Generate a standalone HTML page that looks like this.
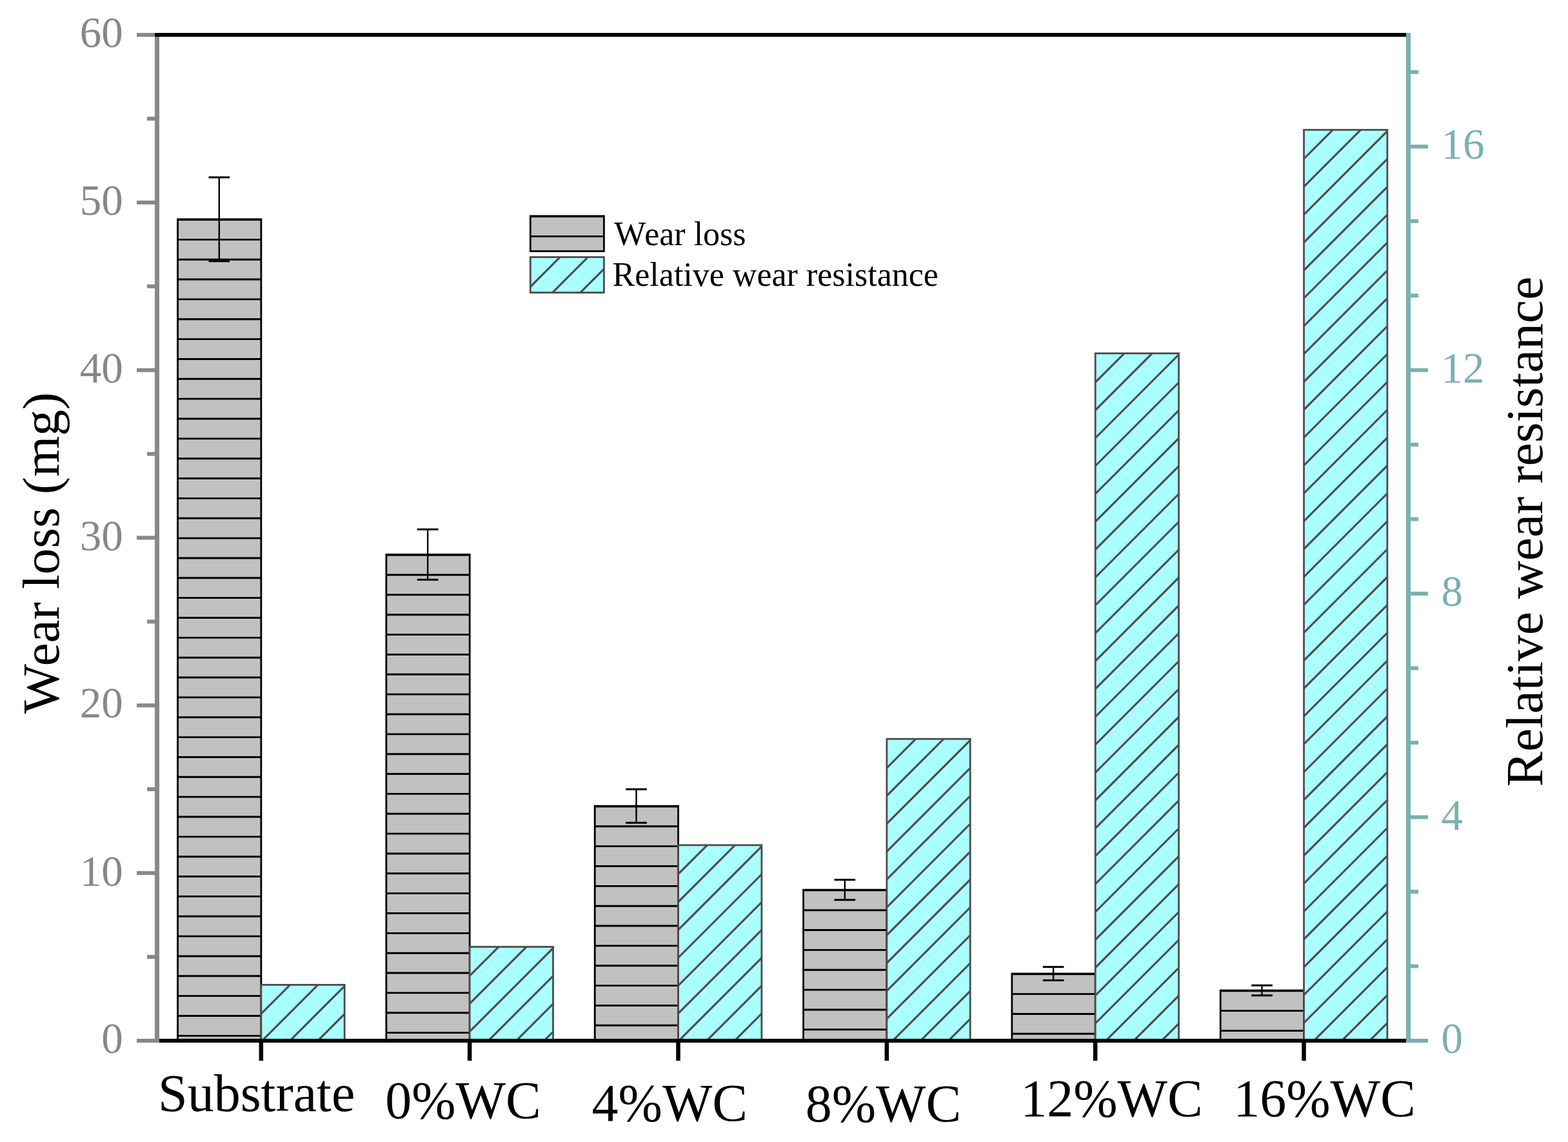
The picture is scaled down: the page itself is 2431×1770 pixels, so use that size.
<!DOCTYPE html>
<html lang="en"><head><meta charset="utf-8"><title>Wear loss and relative wear resistance</title>
<style>html,body{margin:0;padding:0;background:#fff;width:2431px;height:1770px;}svg{display:block;}text{font-family:"Liberation Serif","Times New Roman",Times,serif;white-space:pre;}</style>
</head><body>
<svg width="2431" height="1770" viewBox="0 0 2431 1770">
<rect x="0" y="0" width="2431" height="1770" fill="#fff"/>
<defs>
<clipPath id="cg0"><rect x="275.53" y="339.82" width="129.33" height="1273.18"/></clipPath>
<clipPath id="cc0"><rect x="404.87" y="1526.39" width="129.33" height="86.61"/></clipPath>
<clipPath id="cg1"><rect x="598.87" y="859.48" width="129.33" height="753.52"/></clipPath>
<clipPath id="cc1"><rect x="728.2" y="1467.49" width="129.33" height="145.51"/></clipPath>
<clipPath id="cg2"><rect x="922.2" y="1249.23" width="129.33" height="363.77"/></clipPath>
<clipPath id="cc2"><rect x="1051.53" y="1309.86" width="129.33" height="303.14"/></clipPath>
<clipPath id="cg3"><rect x="1245.53" y="1379.15" width="129.33" height="233.85"/></clipPath>
<clipPath id="cc3"><rect x="1374.87" y="1145.3" width="129.33" height="467.7"/></clipPath>
<clipPath id="cg4"><rect x="1568.87" y="1509.07" width="129.33" height="103.93"/></clipPath>
<clipPath id="cc4"><rect x="1698.2" y="547.68" width="129.33" height="1065.32"/></clipPath>
<clipPath id="cg5"><rect x="1892.2" y="1535.05" width="129.33" height="77.95"/></clipPath>
<clipPath id="cc5"><rect x="2021.53" y="201.24" width="129.33" height="1411.76"/></clipPath>
<clipPath id="cl"><rect x="822" y="398.5" width="114.5" height="55"/></clipPath>
</defs>
<g id="gray0">
<rect x="275.53" y="339.82" width="129.33" height="1273.18" fill="#C1C1C1"/>
<path clip-path="url(#cg0)" stroke="#000" stroke-width="2.9" fill="none" d="M275.53 340.52H404.87M275.53 371.37H404.87M275.53 402.22H404.87M275.53 433.07H404.87M275.53 463.92H404.87M275.53 494.77H404.87M275.53 525.62H404.87M275.53 556.47H404.87M275.53 587.32H404.87M275.53 618.17H404.87M275.53 649.02H404.87M275.53 679.87H404.87M275.53 710.72H404.87M275.53 741.57H404.87M275.53 772.42H404.87M275.53 803.27H404.87M275.53 834.12H404.87M275.53 864.97H404.87M275.53 895.82H404.87M275.53 926.67H404.87M275.53 957.52H404.87M275.53 988.37H404.87M275.53 1019.22H404.87M275.53 1050.07H404.87M275.53 1080.92H404.87M275.53 1111.77H404.87M275.53 1142.62H404.87M275.53 1173.47H404.87M275.53 1204.32H404.87M275.53 1235.17H404.87M275.53 1266.02H404.87M275.53 1296.87H404.87M275.53 1327.72H404.87M275.53 1358.57H404.87M275.53 1389.42H404.87M275.53 1420.27H404.87M275.53 1451.12H404.87M275.53 1481.97H404.87M275.53 1512.82H404.87M275.53 1543.67H404.87M275.53 1574.52H404.87M275.53 1605.37H404.87"/>
<rect x="275.53" y="339.82" width="129.33" height="1273.18" fill="none" stroke="#000" stroke-width="2.8"/>
</g>
<g id="gray1">
<rect x="598.87" y="859.48" width="129.33" height="753.52" fill="#C1C1C1"/>
<path clip-path="url(#cg1)" stroke="#000" stroke-width="2.9" fill="none" d="M598.87 860.18H728.2M598.87 891.03H728.2M598.87 921.88H728.2M598.87 952.73H728.2M598.87 983.58H728.2M598.87 1014.43H728.2M598.87 1045.28H728.2M598.87 1076.13H728.2M598.87 1106.98H728.2M598.87 1137.83H728.2M598.87 1168.68H728.2M598.87 1199.53H728.2M598.87 1230.38H728.2M598.87 1261.23H728.2M598.87 1292.08H728.2M598.87 1322.93H728.2M598.87 1353.78H728.2M598.87 1384.63H728.2M598.87 1415.48H728.2M598.87 1446.33H728.2M598.87 1477.18H728.2M598.87 1508.03H728.2M598.87 1538.88H728.2M598.87 1569.73H728.2M598.87 1600.58H728.2"/>
<rect x="598.87" y="859.48" width="129.33" height="753.52" fill="none" stroke="#000" stroke-width="2.8"/>
</g>
<g id="gray2">
<rect x="922.2" y="1249.23" width="129.33" height="363.77" fill="#C1C1C1"/>
<path clip-path="url(#cg2)" stroke="#000" stroke-width="2.9" fill="none" d="M922.2 1249.93H1051.53M922.2 1280.78H1051.53M922.2 1311.63H1051.53M922.2 1342.48H1051.53M922.2 1373.33H1051.53M922.2 1404.18H1051.53M922.2 1435.03H1051.53M922.2 1465.88H1051.53M922.2 1496.73H1051.53M922.2 1527.58H1051.53M922.2 1558.43H1051.53M922.2 1589.28H1051.53"/>
<rect x="922.2" y="1249.23" width="129.33" height="363.77" fill="none" stroke="#000" stroke-width="2.8"/>
</g>
<g id="gray3">
<rect x="1245.53" y="1379.15" width="129.33" height="233.85" fill="#C1C1C1"/>
<path clip-path="url(#cg3)" stroke="#000" stroke-width="2.9" fill="none" d="M1245.53 1379.85H1374.87M1245.53 1410.7H1374.87M1245.53 1441.55H1374.87M1245.53 1472.4H1374.87M1245.53 1503.25H1374.87M1245.53 1534.1H1374.87M1245.53 1564.95H1374.87M1245.53 1595.8H1374.87"/>
<rect x="1245.53" y="1379.15" width="129.33" height="233.85" fill="none" stroke="#000" stroke-width="2.8"/>
</g>
<g id="gray4">
<rect x="1568.87" y="1509.07" width="129.33" height="103.93" fill="#C1C1C1"/>
<path clip-path="url(#cg4)" stroke="#000" stroke-width="2.9" fill="none" d="M1568.87 1509.77H1698.2M1568.87 1540.62H1698.2M1568.87 1571.47H1698.2M1568.87 1602.32H1698.2"/>
<rect x="1568.87" y="1509.07" width="129.33" height="103.93" fill="none" stroke="#000" stroke-width="2.8"/>
</g>
<g id="gray5">
<rect x="1892.2" y="1535.05" width="129.33" height="77.95" fill="#C1C1C1"/>
<path clip-path="url(#cg5)" stroke="#000" stroke-width="2.9" fill="none" d="M1892.2 1535.75H2021.53M1892.2 1566.6H2021.53M1892.2 1597.45H2021.53"/>
<rect x="1892.2" y="1535.05" width="129.33" height="77.95" fill="none" stroke="#000" stroke-width="2.8"/>
</g>
<g id="cyan0">
<rect x="404.87" y="1526.39" width="129.33" height="86.61" fill="#AAFFFF"/>
<path clip-path="url(#cc0)" stroke="#4D4B4B" stroke-width="3.1" fill="none" d="M402.87 1573.29L451.77 1524.39M402.87 1616.49L494.97 1524.39M402.87 1659.69L538.17 1524.39M402.87 1702.89L581.37 1524.39"/>
<rect x="404.87" y="1526.39" width="129.33" height="86.61" fill="none" stroke="#4D4B4B" stroke-width="2.8"/>
</g>
<g id="cyan1">
<rect x="728.2" y="1467.49" width="129.33" height="145.51" fill="#AAFFFF"/>
<path clip-path="url(#cc1)" stroke="#4D4B4B" stroke-width="3.1" fill="none" d="M726.2 1514.39L775.1 1465.49M726.2 1557.59L818.3 1465.49M726.2 1600.79L861.5 1465.49M726.2 1643.99L904.7 1465.49M726.2 1687.19L947.9 1465.49M726.2 1730.39L991.1 1465.49"/>
<rect x="728.2" y="1467.49" width="129.33" height="145.51" fill="none" stroke="#4D4B4B" stroke-width="2.8"/>
</g>
<g id="cyan2">
<rect x="1051.53" y="1309.86" width="129.33" height="303.14" fill="#AAFFFF"/>
<path clip-path="url(#cc2)" stroke="#4D4B4B" stroke-width="3.1" fill="none" d="M1049.53 1356.76L1098.43 1307.86M1049.53 1399.96L1141.63 1307.86M1049.53 1443.16L1184.83 1307.86M1049.53 1486.36L1228.03 1307.86M1049.53 1529.56L1271.23 1307.86M1049.53 1572.76L1314.43 1307.86M1049.53 1615.96L1357.63 1307.86M1049.53 1659.16L1400.83 1307.86M1049.53 1702.36L1444.03 1307.86"/>
<rect x="1051.53" y="1309.86" width="129.33" height="303.14" fill="none" stroke="#4D4B4B" stroke-width="2.8"/>
</g>
<g id="cyan3">
<rect x="1374.87" y="1145.3" width="129.33" height="467.7" fill="#AAFFFF"/>
<path clip-path="url(#cc3)" stroke="#4D4B4B" stroke-width="3.1" fill="none" d="M1372.87 1192.2L1421.77 1143.3M1372.87 1235.4L1464.97 1143.3M1372.87 1278.6L1508.17 1143.3M1372.87 1321.8L1551.37 1143.3M1372.87 1365L1594.57 1143.3M1372.87 1408.2L1637.77 1143.3M1372.87 1451.4L1680.97 1143.3M1372.87 1494.6L1724.17 1143.3M1372.87 1537.8L1767.37 1143.3M1372.87 1581L1810.57 1143.3M1372.87 1624.2L1853.77 1143.3M1372.87 1667.4L1896.97 1143.3M1372.87 1710.6L1940.17 1143.3"/>
<rect x="1374.87" y="1145.3" width="129.33" height="467.7" fill="none" stroke="#4D4B4B" stroke-width="2.8"/>
</g>
<g id="cyan4">
<rect x="1698.2" y="547.68" width="129.33" height="1065.32" fill="#AAFFFF"/>
<path clip-path="url(#cc4)" stroke="#4D4B4B" stroke-width="3.1" fill="none" d="M1696.2 594.58L1745.1 545.68M1696.2 637.78L1788.3 545.68M1696.2 680.98L1831.5 545.68M1696.2 724.18L1874.7 545.68M1696.2 767.38L1917.9 545.68M1696.2 810.58L1961.1 545.68M1696.2 853.78L2004.3 545.68M1696.2 896.98L2047.5 545.68M1696.2 940.18L2090.7 545.68M1696.2 983.38L2133.9 545.68M1696.2 1026.58L2177.1 545.68M1696.2 1069.78L2220.3 545.68M1696.2 1112.98L2263.5 545.68M1696.2 1156.18L2306.7 545.68M1696.2 1199.38L2349.9 545.68M1696.2 1242.58L2393.1 545.68M1696.2 1285.78L2436.3 545.68M1696.2 1328.98L2479.5 545.68M1696.2 1372.18L2522.7 545.68M1696.2 1415.38L2565.9 545.68M1696.2 1458.58L2609.1 545.68M1696.2 1501.78L2652.3 545.68M1696.2 1544.98L2695.5 545.68M1696.2 1588.18L2738.7 545.68M1696.2 1631.38L2781.9 545.68M1696.2 1674.58L2825.1 545.68M1696.2 1717.78L2868.3 545.68"/>
<rect x="1698.2" y="547.68" width="129.33" height="1065.32" fill="none" stroke="#4D4B4B" stroke-width="2.8"/>
</g>
<g id="cyan5">
<rect x="2021.53" y="201.24" width="129.33" height="1411.76" fill="#AAFFFF"/>
<path clip-path="url(#cc5)" stroke="#4D4B4B" stroke-width="3.1" fill="none" d="M2019.53 248.14L2068.43 199.24M2019.53 291.34L2111.63 199.24M2019.53 334.54L2154.83 199.24M2019.53 377.74L2198.03 199.24M2019.53 420.94L2241.23 199.24M2019.53 464.14L2284.43 199.24M2019.53 507.34L2327.63 199.24M2019.53 550.54L2370.83 199.24M2019.53 593.74L2414.03 199.24M2019.53 636.94L2457.23 199.24M2019.53 680.14L2500.43 199.24M2019.53 723.34L2543.63 199.24M2019.53 766.54L2586.83 199.24M2019.53 809.74L2630.03 199.24M2019.53 852.94L2673.23 199.24M2019.53 896.14L2716.43 199.24M2019.53 939.34L2759.63 199.24M2019.53 982.54L2802.83 199.24M2019.53 1025.74L2846.03 199.24M2019.53 1068.94L2889.23 199.24M2019.53 1112.14L2932.43 199.24M2019.53 1155.34L2975.63 199.24M2019.53 1198.54L3018.83 199.24M2019.53 1241.74L3062.03 199.24M2019.53 1284.94L3105.23 199.24M2019.53 1328.14L3148.43 199.24M2019.53 1371.34L3191.63 199.24M2019.53 1414.54L3234.83 199.24M2019.53 1457.74L3278.03 199.24M2019.53 1500.94L3321.23 199.24M2019.53 1544.14L3364.43 199.24M2019.53 1587.34L3407.63 199.24M2019.53 1630.54L3450.83 199.24M2019.53 1673.74L3494.03 199.24M2019.53 1716.94L3537.23 199.24"/>
<rect x="2021.53" y="201.24" width="129.33" height="1411.76" fill="none" stroke="#4D4B4B" stroke-width="2.8"/>
</g>
<g id="errs" fill="#000">
<rect x="338.6" y="274.86" width="2.4" height="129.92"/>
<rect x="323.5" y="273.36" width="32.6" height="3"/>
<rect x="323.5" y="403.28" width="32.6" height="3"/>
<rect x="661.93" y="820.51" width="2.4" height="77.95"/>
<rect x="646.83" y="819.01" width="32.6" height="3"/>
<rect x="646.83" y="896.96" width="32.6" height="3"/>
<rect x="985.27" y="1223.25" width="2.4" height="51.97"/>
<rect x="970.17" y="1221.75" width="32.6" height="3"/>
<rect x="970.17" y="1273.72" width="32.6" height="3"/>
<rect x="1308.6" y="1363.56" width="2.4" height="31.18"/>
<rect x="1293.5" y="1362.06" width="32.6" height="3"/>
<rect x="1293.5" y="1393.24" width="32.6" height="3"/>
<rect x="1631.93" y="1498.67" width="2.4" height="20.79"/>
<rect x="1616.83" y="1497.17" width="32.6" height="3"/>
<rect x="1616.83" y="1517.96" width="32.6" height="3"/>
<rect x="1955.27" y="1527.26" width="2.4" height="15.59"/>
<rect x="1940.17" y="1525.76" width="32.6" height="3"/>
<rect x="1940.17" y="1541.35" width="32.6" height="3"/>
</g>
<g id="axes">
<rect x="247" y="1610" width="1933" height="6" fill="#000"/>
<rect x="401.57" y="1614" width="6.5" height="30" fill="#000"/>
<rect x="724.9" y="1614" width="6.5" height="30" fill="#000"/>
<rect x="1048.23" y="1614" width="6.5" height="30" fill="#000"/>
<rect x="1371.57" y="1614" width="6.5" height="30" fill="#000"/>
<rect x="1694.9" y="1614" width="6.5" height="30" fill="#000"/>
<rect x="2018.23" y="1614" width="6.5" height="30" fill="#000"/>
<rect x="240" y="51" width="7" height="1565" fill="#888888"/>
<rect x="212" y="1610" width="31" height="6" fill="#888888"/>
<rect x="228" y="1480.08" width="15" height="6" fill="#888888"/>
<rect x="212" y="1350.17" width="31" height="6" fill="#888888"/>
<rect x="228" y="1220.25" width="15" height="6" fill="#888888"/>
<rect x="212" y="1090.33" width="31" height="6" fill="#888888"/>
<rect x="228" y="960.42" width="15" height="6" fill="#888888"/>
<rect x="212" y="830.5" width="31" height="6" fill="#888888"/>
<rect x="228" y="700.58" width="15" height="6" fill="#888888"/>
<rect x="212" y="570.67" width="31" height="6" fill="#888888"/>
<rect x="228" y="440.75" width="15" height="6" fill="#888888"/>
<rect x="212" y="310.83" width="31" height="6" fill="#888888"/>
<rect x="228" y="180.92" width="15" height="6" fill="#888888"/>
<rect x="212" y="51" width="31" height="6" fill="#888888"/>
<rect x="240" y="51" width="1940" height="6" fill="#000"/>
<rect x="2180" y="51" width="7" height="1565" fill="#7AB0B0"/>
<rect x="2184" y="1610" width="30" height="6" fill="#7AB0B0"/>
<rect x="2184" y="1494.52" width="15" height="6" fill="#7AB0B0"/>
<rect x="2184" y="1379.04" width="15" height="6" fill="#7AB0B0"/>
<rect x="2184" y="1263.56" width="30" height="6" fill="#7AB0B0"/>
<rect x="2184" y="1148.07" width="15" height="6" fill="#7AB0B0"/>
<rect x="2184" y="1032.59" width="15" height="6" fill="#7AB0B0"/>
<rect x="2184" y="917.11" width="30" height="6" fill="#7AB0B0"/>
<rect x="2184" y="801.63" width="15" height="6" fill="#7AB0B0"/>
<rect x="2184" y="686.15" width="15" height="6" fill="#7AB0B0"/>
<rect x="2184" y="570.67" width="30" height="6" fill="#7AB0B0"/>
<rect x="2184" y="455.19" width="15" height="6" fill="#7AB0B0"/>
<rect x="2184" y="339.7" width="15" height="6" fill="#7AB0B0"/>
<rect x="2184" y="224.22" width="30" height="6" fill="#7AB0B0"/>
<rect x="2184" y="108.74" width="15" height="6" fill="#7AB0B0"/>
</g>
<g id="ylab" font-size="67" fill="#888888" text-anchor="end">
<text x="190.7" y="1632">0</text>
<text x="190.7" y="1373">10</text>
<text x="190.7" y="1112">20</text>
<text x="190.7" y="853">30</text>
<text x="190.7" y="593">40</text>
<text x="190.7" y="333">50</text>
<text x="190.7" y="73">60</text>
</g>
<g id="yrlab" font-size="67" fill="#7AB0B0">
<text x="2234.4" y="1632">0</text>
<text x="2234.4" y="1286">4</text>
<text x="2234.4" y="939">8</text>
<text x="2234.4" y="593">12</text>
<text x="2234.4" y="246">16</text>
</g>
<g id="xlab" font-size="82" fill="#000">
<text x="245.1" y="1722.2">Substrate</text>
<text x="597.3" y="1733">0%WC</text>
<text x="917.6" y="1737">4%WC</text>
<text x="1248.8" y="1738.3">8%WC</text>
<text x="1582.3" y="1730.2">12%WC</text>
<text x="1912.3" y="1730.2">16%WC</text>
</g>
<text id="ytitle" font-size="81.4" fill="#000" style="font-kerning:none" textLength="498.0" lengthAdjust="spacing" dx="0 -3.4" transform="translate(91 1106) rotate(-90)">Wear loss (mg)</text>
<text id="yrtitle" font-size="81.4" fill="#000" style="font-kerning:none" textLength="790.6" lengthAdjust="spacing" transform="translate(2391 1219.3) rotate(-90)">Relative wear resistance</text>
<g id="legend">
<rect x="822.3" y="334.8" width="114.1" height="54.5" fill="#C1C1C1" stroke="#000" stroke-width="2.8"/>
<path d="M822 335.6H937M822 366.4H937" stroke="#000" stroke-width="2.9" fill="none"/>
<rect x="822.3" y="398.5" width="114.1" height="55" fill="#AAFFFF"/>
<path clip-path="url(#cl)" d="M820.3 446.5L870.3 396.5M820.3 489.7L913.5 396.5M820.3 532.9L956.7 396.5" stroke="#4D4B4B" stroke-width="3.1" fill="none"/>
<rect x="822.3" y="398.5" width="114.1" height="55" fill="none" stroke="#4D4B4B" stroke-width="2.8"/>
<text x="952.3" y="379.6" font-size="52" fill="#000" style="font-kerning:none" dx="0 -2.2">Wear loss</text>
<text x="949.6" y="443" font-size="52" fill="#000">Relative wear resistance</text>
</g>
</svg>
</body></html>
